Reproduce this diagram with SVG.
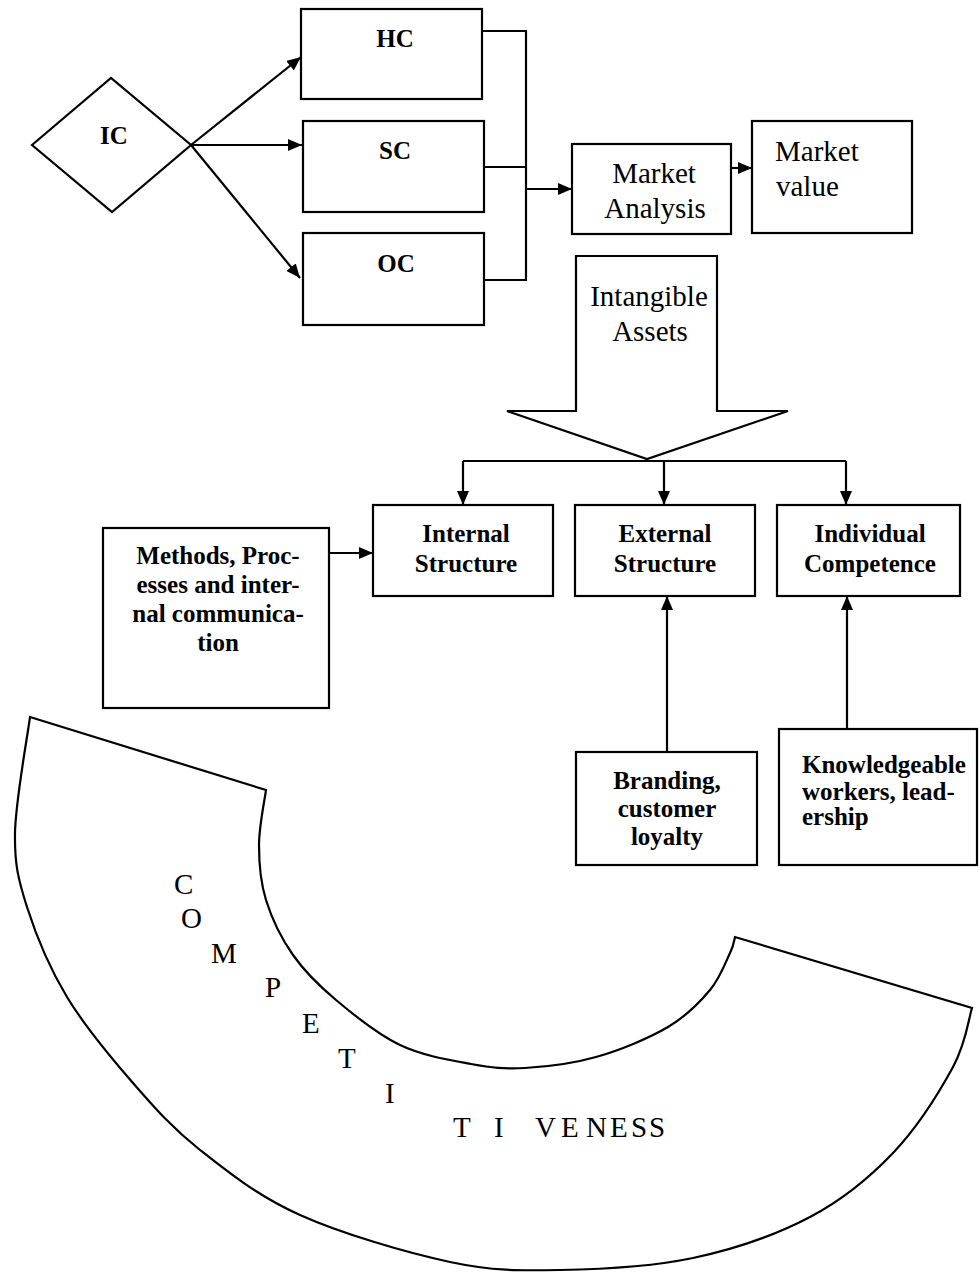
<svg xmlns="http://www.w3.org/2000/svg" width="980" height="1272" viewBox="0 0 980 1272">
<style>
.box{fill:#fff;stroke:#000;stroke-width:2.2}
.ln{fill:none;stroke:#000;stroke-width:2.2}
.b{font-family:"Liberation Serif","Times New Roman",serif;font-weight:bold;font-size:25px;fill:#000}
.r{font-family:"Liberation Serif","Times New Roman",serif;font-size:29px;fill:#000}
.c{text-anchor:middle}
</style>
<defs>
<marker id="ah" viewBox="0 0 14 12" refX="14" refY="6" markerWidth="14" markerHeight="12" markerUnits="userSpaceOnUse" orient="auto">
<path d="M0,0 L14,6 L0,12 Z" fill="#000"/>
</marker>
</defs>
<rect width="980" height="1272" fill="#fff"/>

<g id="connectors">
<line class="ln" x1="191" y1="145" x2="301" y2="57" marker-end="url(#ah)"/>
<line class="ln" x1="191" y1="145" x2="302" y2="145" marker-end="url(#ah)"/>
<line class="ln" x1="191" y1="145" x2="300" y2="278" marker-end="url(#ah)"/>
<polyline class="ln" points="482,31 526,31 526,280 484,280"/>
<line class="ln" x1="484" y1="167" x2="526" y2="167"/>
<line class="ln" x1="526" y1="189" x2="572" y2="189" marker-end="url(#ah)"/>
<line class="ln" x1="731" y1="168" x2="752" y2="168" marker-end="url(#ah)"/>
<line class="ln" x1="463" y1="461" x2="846" y2="461"/>
<line class="ln" x1="463" y1="461" x2="463" y2="505" marker-end="url(#ah)"/>
<line class="ln" x1="664" y1="461" x2="664" y2="505" marker-end="url(#ah)"/>
<line class="ln" x1="846" y1="461" x2="846" y2="505" marker-end="url(#ah)"/>
<line class="ln" x1="329" y1="553" x2="373" y2="553" marker-end="url(#ah)"/>
<line class="ln" x1="667" y1="752" x2="667" y2="596" marker-end="url(#ah)"/>
<line class="ln" x1="847" y1="729" x2="847" y2="596" marker-end="url(#ah)"/>
</g>

<g id="IC">
<polygon class="box" points="32,145 111,78 191,145 112,212"/>
<text class="b c" x="114" y="144">IC</text>
</g>
<g id="HC">
<rect class="box" x="301" y="9" width="181" height="90"/>
<text class="b c" x="395" y="47">HC</text>
</g>
<g id="SC">
<rect class="box" x="303" y="121" width="181" height="91"/>
<text class="b c" x="395" y="159">SC</text>
</g>
<g id="OC">
<rect class="box" x="303" y="233" width="181" height="92"/>
<text class="b c" x="396" y="272">OC</text>
</g>
<g id="market-analysis">
<rect class="box" x="572" y="144" width="159" height="90"/>
<text class="r c" x="654" y="183">Market</text>
<text class="r c" x="655" y="218">Analysis</text>
</g>
<g id="market-value">
<rect class="box" x="752" y="121" width="160" height="112"/>
<text class="r" x="775" y="161">Market</text>
<text class="r" x="776" y="196">value</text>
</g>
<g id="intangible-assets">
<polygon class="box" points="576,256 717,256 717,411 788,411 647,459 507,411 576,411"/>
<text class="r c" x="649" y="306">Intangible</text>
<text class="r c" x="650" y="341">Assets</text>
</g>
<g id="internal-structure">
<rect class="box" x="373" y="505" width="180" height="91"/>
<text class="b c" x="466" y="542">Internal</text>
<text class="b c" x="466" y="572">Structure</text>
</g>
<g id="external-structure">
<rect class="box" x="575" y="505" width="180" height="91"/>
<text class="b c" x="665" y="542">External</text>
<text class="b c" x="665" y="572">Structure</text>
</g>
<g id="individual-competence">
<rect class="box" x="777" y="505" width="183" height="91"/>
<text class="b c" x="870" y="542">Individual</text>
<text class="b c" x="870" y="572">Competence</text>
</g>
<g id="methods">
<rect class="box" x="103" y="528" width="226" height="180"/>
<text class="b c" x="218" y="564">Methods, Proc-</text>
<text class="b c" x="218" y="593">esses and inter-</text>
<text class="b c" x="218" y="622">nal communica-</text>
<text class="b c" x="218" y="651">tion</text>
</g>
<g id="branding">
<rect class="box" x="576" y="752" width="181" height="113"/>
<text class="b c" x="667" y="789">Branding,</text>
<text class="b c" x="667" y="817">customer</text>
<text class="b c" x="667" y="845">loyalty</text>
</g>
<g id="knowledgeable">
<rect class="box" x="779" y="729" width="198" height="136"/>
<text class="b" x="802" y="773">Knowledgeable</text>
<text class="b" x="802" y="800">workers, lead-</text>
<text class="b" x="802" y="825">ership</text>
</g>

<g id="competitiveness">
<path class="ln" d="M30,717 L266,790
C264.8,799.2 259,826.7 259,845
C259,863.3 260.3,881.7 266,900
C271.7,918.3 281.3,938.3 293,955
C304.7,971.7 318.2,985 336,1000
C353.8,1015 377.5,1034.3 400,1045
C422.5,1055.7 450.2,1060.2 471,1064
C491.8,1067.8 504.2,1069.2 525,1068
C545.8,1066.8 572.2,1063.8 596,1057
C619.8,1050.2 649,1038.2 668,1027
C687,1015.8 699.7,1002.3 710,990
C720.3,977.7 725.8,961.8 730,953
C734.2,944.2 734.2,939.7 735,937
L972,1008
C968.8,1017.8 966.2,1042.8 953,1067
C939.8,1091.2 916.8,1128 893,1153
C869.2,1178 843.3,1199.5 810,1217
C776.7,1234.5 734.7,1249.2 693,1258
C651.3,1266.8 600.5,1269.3 560,1270
C519.5,1270.7 493.3,1271.2 450,1262
C406.7,1252.8 341.7,1233.7 300,1215
C258.3,1196.3 227.8,1172 200,1150
C172.2,1128 155.2,1108.5 133,1083
C110.8,1057.5 84.7,1026.3 67,997
C49.3,967.7 35.7,934.3 27,907
C18.3,879.7 14.5,864.7 15,833
C15.5,801.3 27.5,736.3 30,717 Z"/>
<text class="r" x="174" y="894">C</text>
<text class="r" x="181" y="928">O</text>
<text class="r" x="211" y="963">M</text>
<text class="r" x="265" y="997">P</text>
<text class="r" x="302" y="1033">E</text>
<text class="r" x="338" y="1068">T</text>
<text class="r" x="385" y="1103">I</text>
<text class="r" x="453" y="1137">T</text>
<text class="r" x="494" y="1137">I</text>
<text class="r" x="535" y="1137">V</text>
<text class="r" x="561" y="1137">E</text>
<text class="r" x="586" y="1137">N</text>
<text class="r" x="610" y="1137">E</text>
<text class="r" x="631" y="1137">S</text>
<text class="r" x="649" y="1137">S</text>
</g>
</svg>
